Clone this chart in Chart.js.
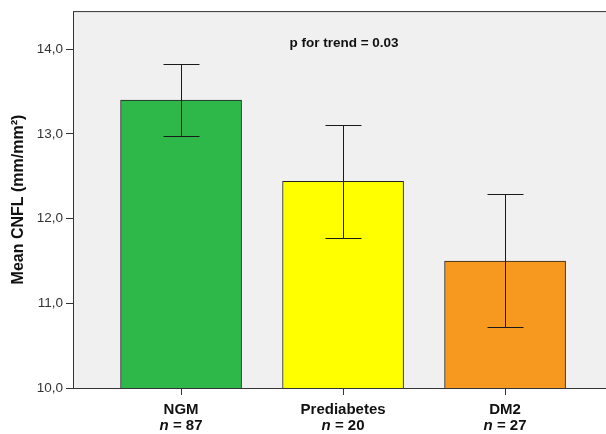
<!DOCTYPE html>
<html>
<head>
<meta charset="utf-8">
<script src="https://cdn.jsdelivr.net/npm/chart.js@4"></script>
<style>
  html, body { margin: 0; padding: 0; background: #fff; }
  #wrap { width: 606px; height: 434px; }
</style>
</head>
<body>
<div id="wrap"><canvas id="bar_chart"></canvas></div>
<script>
const categories = ["NGM", "Prediabetes", "DM2"];
const sampleSizes = [87, 20, 27];
const means = [13.40, 12.44, 11.50];
const ciLow = [12.97, 11.77, 10.72];
const ciHigh = [13.82, 13.11, 12.29];
const yTicks = [10, 11, 12, 13, 14];
const COLORS = ["#2fb84a", "#ffff00", "#f7991f"];

// frame + background of the plot area
const frame = {
  id: 'frame',
  beforeDatasetsDraw(chart) {
    const { ctx, chartArea: a } = chart;
    ctx.save();
    ctx.fillStyle = '#f0f0f0';
    ctx.fillRect(a.left, a.top, a.right - a.left, a.bottom - a.top);
    ctx.strokeStyle = '#333';
    ctx.lineWidth = 1;
    ctx.strokeRect(a.left + 0.5, a.top + 0.5, a.right - a.left + 2, a.bottom - a.top);
    ctx.restore();
  }
};

// error bars, category labels and p-value note
const extras = {
  id: 'extras',
  afterDatasetsDraw(chart) {
    const { ctx, scales: { x, y } } = chart;
    ctx.save();
    ctx.strokeStyle = '#1a1a1a';
    ctx.lineWidth = 1;
    means.forEach((m, i) => {
      const cx = Math.round(x.getPixelForValue(i)) + 0.5;
      const top = Math.round(y.getPixelForValue(ciHigh[i])) + 0.5;
      const bot = Math.round(y.getPixelForValue(ciLow[i])) + 0.5;
      ctx.beginPath();
      ctx.moveTo(cx, top); ctx.lineTo(cx, bot);
      ctx.moveTo(cx - 18, top); ctx.lineTo(cx + 18, top);
      ctx.moveTo(cx - 18, bot); ctx.lineTo(cx + 18, bot);
      ctx.stroke();
    });
    ctx.fillStyle = '#111';
    ctx.textBaseline = 'middle';
    const bold = 'bold 15px Arial, "Liberation Sans", sans-serif';
    const ital = 'italic bold 15px Arial, "Liberation Sans", sans-serif';
    categories.forEach((c, i) => {
      const cx = x.getPixelForValue(i);
      ctx.textAlign = 'center';
      ctx.font = bold;
      ctx.fillText(c, cx, 410);
      const rest = ' = ' + sampleSizes[i];
      ctx.font = ital;
      const wn = ctx.measureText('n').width;
      ctx.font = bold;
      const wr = ctx.measureText(rest).width;
      const start = cx - (wn + wr) / 2;
      ctx.textAlign = 'left';
      ctx.font = ital;
      ctx.fillText('n', start, 426);
      ctx.font = bold;
      ctx.fillText(rest, start + wn, 426);
    });
    ctx.textAlign = 'center';
    ctx.font = 'bold 13.5px Arial, "Liberation Sans", sans-serif';
    ctx.fillText('p for trend = 0.03', 344, 43);
    ctx.restore();
  }
};

new Chart(document.getElementById('bar_chart'), {
  type: 'bar',
  data: {
    datasets: [{
      data: means.map((m, i) => ({ x: i, y: m })),
      backgroundColor: COLORS,
      borderColor: '#222',
      borderWidth: 1,
      borderSkipped: false,
      barThickness: 121
    }]
  },
  options: {
    responsive: true,
    maintainAspectRatio: false,
    animation: false,
    layout: { padding: { top: 10, right: 0, bottom: 0, left: 0 } },
    plugins: { legend: { display: false }, tooltip: { enabled: false } },
    scales: {
      x: {
        type: 'linear',
        offset: false,
        bounds: 'data',
        min: -0.667,
        max: 2.623,
        afterBuildTicks(s) { s.ticks = [0, 1, 2].map(v => ({ value: v })); },
        afterFit(s) { s.height = 46; },
        grid: { display: true, offset: false, drawOnChartArea: false, tickLength: 7, color: '#333' },
        border: { display: false },
        ticks: { display: false }
      },
      y: {
        min: 10,
        max: 14.45,
        afterBuildTicks(s) { s.ticks = yTicks.map(v => ({ value: v })); },
        afterFit(s) { s.width = 73; },
        grid: { display: true, drawOnChartArea: false, tickLength: 7, color: '#333' },
        border: { display: false },
        ticks: {
          color: '#333',
          padding: 3,
          font: { family: 'Arial, "Liberation Sans", sans-serif', size: 13.5 },
          callback: v => v.toFixed(1).replace('.', ',')
        },
        title: {
          display: true,
          text: 'Mean CNFL (mm/mm\u00b2)',
          color: '#111',
          padding: { top: 9, bottom: 2 },
          font: { family: 'Arial, "Liberation Sans", sans-serif', size: 16, weight: 'bold' }
        }
      }
    }
  },
  plugins: [frame, extras]
});
</script>
</body>
</html>
